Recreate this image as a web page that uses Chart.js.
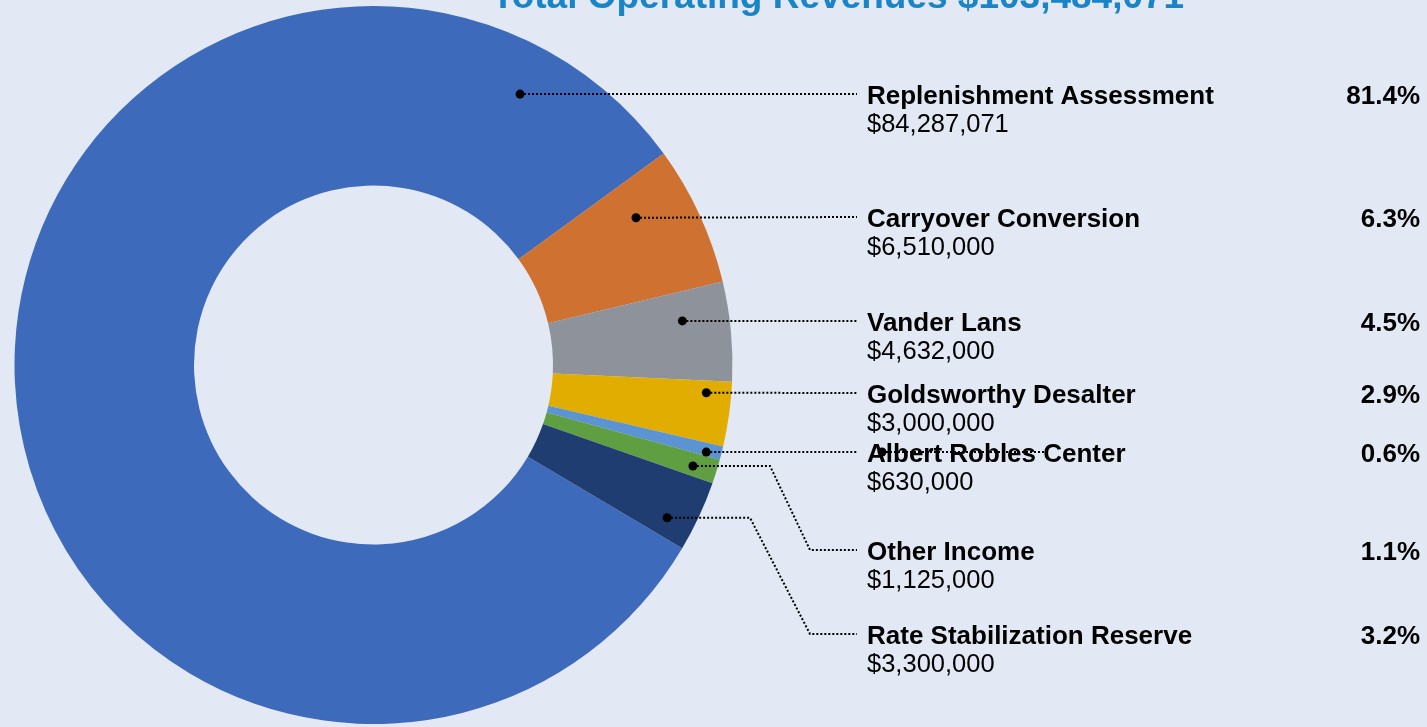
<!DOCTYPE html>
<html>
<head>
<meta charset="utf-8">
<script src="https://cdn.jsdelivr.net/npm/chart.js@4/dist/chart.umd.min.js"></script>
<style>
  body { margin: 0; background: #e2e9f4; overflow: hidden; }
  canvas { display: block; }
</style>
</head>
<body>
<canvas id="myChart" width="1427" height="727"></canvas>
<script>
// revenue sources, in legend order
const categories = [
    "Replenishment Assessment",
    "Carryover Conversion",
    "Vander Lans",
    "Goldsworthy Desalter",
    "Albert Robles Center",
    "Other Income",
    "Rate Stabilization Reserve"
];
const amounts = [84287071, 6510000, 4632000, 3000000, 630000, 1125000, 3300000];
const colors = ["#3d6abb", "#cf7130", "#8e939b", "#e0ad00", "#5b93d3", "#5f9e41", "#203d72"];

// where the label rows sit (y of the leader line) and where the dot goes inside the slice
const labelY = [94, 217, 321, 393, 452, 550, 634];
const anchorFrac = [0.913, 0.30, 0.33, 0.20, 0.71, 0.57, 0.72];
const anchorR = [308, 301, 312, 334, 344, 335, 331];
// elbow x for the lines that have to bend down
const elbowX = [null, null, null, null, null, 770, 750];

const total = amounts.reduce((a, b) => a + b, 0);
const fmt = n => "$" + n.toLocaleString("en-US");
const FONT = "'Liberation Sans', Arial, sans-serif";

function leader(ctx, pts) {
    ctx.strokeStyle = "#000";
    ctx.lineWidth = 2;
    ctx.setLineDash([2, 2]);
    ctx.beginPath();
    ctx.moveTo(pts[0][0], pts[0][1]);
    pts.slice(1).forEach(p => ctx.lineTo(p[0], p[1]));
    ctx.stroke();
    ctx.setLineDash([]);
    ctx.fillStyle = "#000";
    ctx.beginPath();
    ctx.arc(pts[0][0], pts[0][1], 4.5, 0, Math.PI * 2);
    ctx.fill();
}

const labelPlugin = {
    id: "labels",
    beforeDraw(chart) {
        const ctx = chart.ctx;
        ctx.save();
        ctx.fillStyle = "#e2e9f4";
        ctx.fillRect(0, 0, chart.width, chart.height);
        ctx.restore();
    },
    afterDraw(chart) {
        const ctx = chart.ctx;
        const arcs = chart.getDatasetMeta(0).data;
        ctx.save();

        // title, partly cut off at the top
        ctx.fillStyle = "#1984c8";
        ctx.font = "bold 37px " + FONT;
        ctx.textAlign = "center";
        ctx.textBaseline = "alphabetic";
        ctx.fillText("Total Operating Revenues " + fmt(total), 838, 8);

        categories.forEach((name, i) => {
            const arc = arcs[i];
            const a = arc.startAngle + (arc.endAngle - arc.startAngle) * anchorFrac[i];
            const px = arc.x + Math.cos(a) * anchorR[i];
            const py = arc.y + Math.sin(a) * anchorR[i];
            const y = labelY[i];

            const pts = [[px, py]];
            if (elbowX[i]) {
                pts.push([elbowX[i], py], [810, y]);
            }
            pts.push([857, y]);
            leader(ctx, pts);

            ctx.fillStyle = "#000";
            ctx.textBaseline = "middle";
            ctx.textAlign = "left";
            ctx.font = "bold 26px " + FONT;
            ctx.fillText(name, 867, y + 3);
            ctx.font = "25.5px " + FONT;
            ctx.fillText(fmt(amounts[i]), 867, y + 31);
            ctx.textAlign = "right";
            ctx.font = "bold 26px " + FONT;
            ctx.fillText((amounts[i] / total * 100).toFixed(1) + "%", 1420, y + 3);
        });

        // stray leader that runs over the Albert Robles label in the original
        leader(ctx, [[882, labelY[4]], [1050, labelY[4]]]);

        ctx.restore();
    }
};

new Chart(document.getElementById("myChart"), {
    type: "doughnut",
    data: {
        labels: categories,
        datasets: [{
            data: amounts,
            backgroundColor: colors,
            borderWidth: 0
        }]
    },
    options: {
        responsive: false,
        animation: false,
        cutout: "50%",
        rotation: 120.7,
        layout: { padding: { left: 14, right: 694, top: 6, bottom: 3 } },
        plugins: {
            legend: { display: false },
            tooltip: { enabled: false }
        }
    },
    plugins: [labelPlugin]
});
</script>
</body>
</html>
